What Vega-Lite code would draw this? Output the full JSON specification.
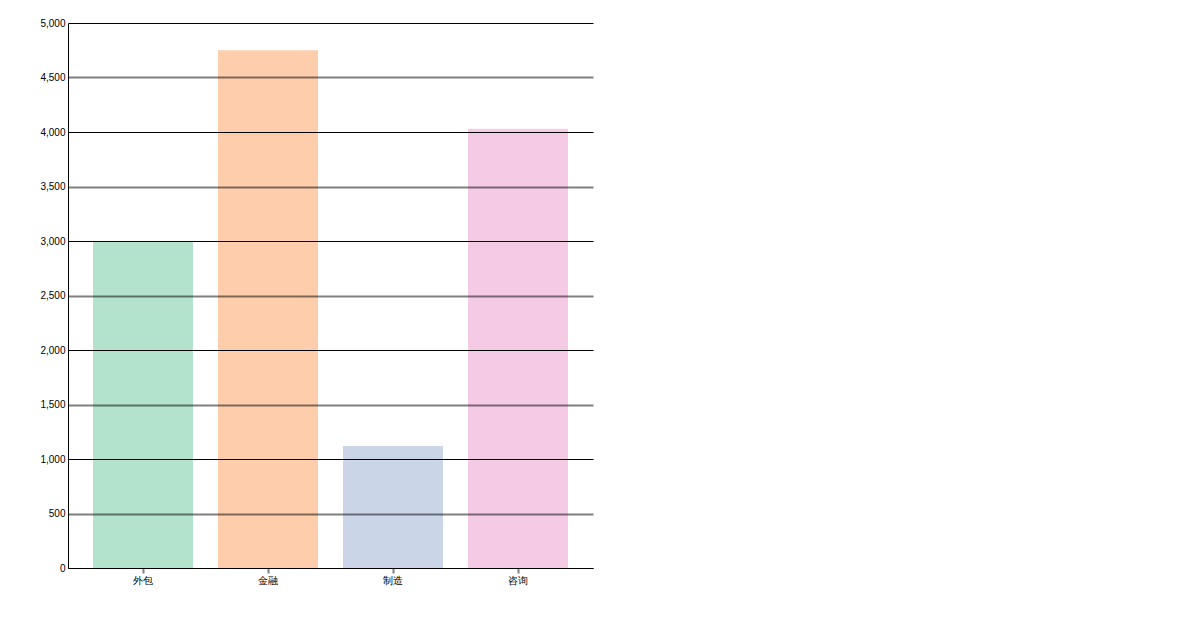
{
  "$schema": "https://vega.github.io/schema/vega-lite/v6.json",
  "autosize": {"type": "none"},
  "padding": {"left": 68, "top": 23, "right": 607, "bottom": 62},
  "width": 525,
  "height": 545,
  "background": "white",
  "data": {
    "values": [
      {"industry": "外包", "amount": 3000},
      {"industry": "金融", "amount": 4750},
      {"industry": "制造", "amount": 1120},
      {"industry": "咨询", "amount": 4030}
    ]
  },
  "mark": "bar",
  "encoding": {
    "x": {
      "field": "industry",
      "type": "nominal",
      "sort": null,
      "scale": {"paddingInner": 0.2, "paddingOuter": 0.2},
      "axis": {
        "title": null,
        "labelAngle": 0,
        "labelFont": "Liberation Sans",
        "labelFontSize": 10,
        "labelColor": "black",
        "labelPadding": 2,
        "domainColor": "black",
        "tickColor": "#808080",
        "tickWidth": 2,
        "tickSize": 5,
        "zindex": 1
      }
    },
    "y": {
      "field": "amount",
      "type": "quantitative",
      "scale": {"domain": [0, 5000]},
      "axis": {
        "title": null,
        "values": [0, 500, 1000, 1500, 2000, 2500, 3000, 3500, 4000, 4500, 5000],
        "format": ",d",
        "ticks": false,
        "labelPadding": 3,
        "labelFont": "Liberation Sans",
        "labelFontSize": 10,
        "labelColor": "black",
        "domainColor": "black",
        "grid": true,
        "gridColor": "black",
        "gridWidth": {"condition": {"test": "datum.value % 1000 === 0", "value": 1}, "value": 2},
        "gridOpacity": {"condition": {"test": "datum.value % 1000 === 0", "value": 1}, "value": 0.5},
        "zindex": 1
      }
    },
    "color": {
      "field": "industry",
      "type": "nominal",
      "scale": {
        "domain": ["外包", "金融", "制造", "咨询"],
        "range": ["#b3e2cd", "#fdcdac", "#cbd5e8", "#f4cae4"]
      },
      "legend": null
    }
  },
  "config": {"view": {"stroke": null}}
}
